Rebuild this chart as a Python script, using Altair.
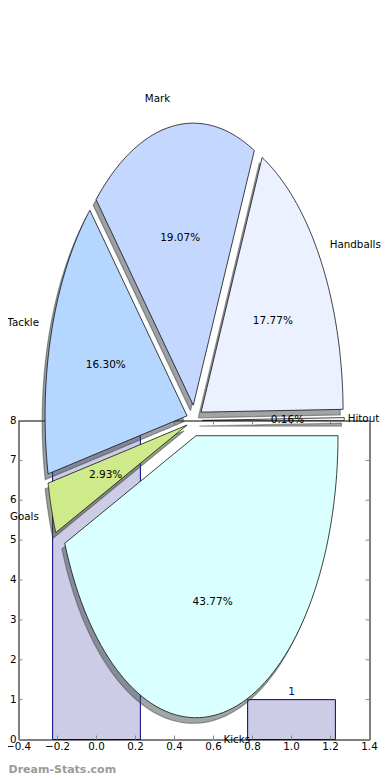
import altair as alt
import pandas as pd

# ---------------- data ----------------
labels = ["Hitout", "Handballs", "Mark", "Tackle", "Goals", "Kicks"]
percents = [0.16, 17.77, 19.07, 16.30, 2.93, 43.77]
colors = ["#ffffff", "#ebf1ff", "#c4d8ff", "#b4d6ff", "#ceea8a", "#d9ffff"]

bar_x = [0, 1]
bar_h = [8, 1]
bar_text = ["8", "1"]

x_ticks = [-0.4, -0.2, 0.0, 0.2, 0.4, 0.6, 0.8, 1.0, 1.2, 1.4]
x_tick_labels = ["\u22120.4", "\u22120.2", "0.0", "0.2", "0.4", "0.6", "0.8", "1.0", "1.2", "1.4"]
y_ticks = [0, 1, 2, 3, 4, 5, 6, 7, 8]
y_tick_labels = ["0", "1", "2", "3", "4", "5", "6", "7", "8"]

title_text = "DT score spread for Adam Selwood (2005)"
watermark = "Dream-Stats.com"

# ---------------- styling ----------------
FONT = "DejaVu Sans"
W, H = 351, 319          # bar axes plot area
EXPLODE = 0.055
SHADOW = 0.02
N = 80
LABEL_FS = 10.3
TICK_FS = 10.3


def shade(h):
    r, g, b = int(h[1:3], 16), int(h[3:5], 16), int(h[5:7], 16)
    return "#%02x%02x%02x" % (round(0.3 * r), round(0.3 * g), round(0.3 * b))


shadow_colors = [shade(c) for c in colors]


def bx():
    return alt.Scale(domain=[-0.4, 1.4], nice=False, zero=False)


def by():
    return alt.Scale(domain=[0, 8], nice=False, zero=False)


def px_scale():
    return alt.Scale(domain=[-1, 1], range=[34, 318], nice=False, zero=False)


def py_scale():
    return alt.Scale(domain=[-1, 1], range=[282, -282], nice=False, zero=False)


# ---------------- bar axes ----------------
bars_df = pd.DataFrame({"x": bar_x, "h": bar_h, "t": bar_text})

bars = alt.Chart(bars_df).transform_calculate(
    x0="datum.x - 0.225", x1="datum.x + 0.225", base="0"
).mark_rect(fill="#ccccE6", stroke="#000080", strokeWidth=1).encode(
    x=alt.X("x0:Q", scale=bx(), axis=None),
    x2="x1:Q",
    y=alt.Y("base:Q", scale=by(), axis=None),
    y2="h:Q",
)

bar_labels = alt.Chart(bars_df).mark_text(
    baseline="bottom", dy=-3, color="#000080", fontSize=10.5, font=FONT
).encode(x=alt.X("x:Q", scale=bx(), axis=None), y=alt.Y("h:Q", scale=by(), axis=None),
         text="t:N")

xt_df = pd.DataFrame({"v": x_ticks, "s": x_tick_labels})
yt_df = pd.DataFrame({"v": y_ticks, "s": y_tick_labels})
tick_style = dict(color="#888888", strokeWidth=1)
tx_bot = alt.Chart(xt_df).mark_rule(**tick_style).encode(
    x=alt.X("v:Q", scale=bx(), axis=None), y=alt.value(H), y2=alt.value(H - 4))
tx_top = alt.Chart(xt_df).mark_rule(**tick_style).encode(
    x=alt.X("v:Q", scale=bx(), axis=None), y=alt.value(0), y2=alt.value(4))
ty_left = alt.Chart(yt_df).mark_rule(**tick_style).encode(
    y=alt.Y("v:Q", scale=by(), axis=None), x=alt.value(0), x2=alt.value(4))
ty_right = alt.Chart(yt_df).mark_rule(**tick_style).encode(
    y=alt.Y("v:Q", scale=by(), axis=None), x=alt.value(W), x2=alt.value(W - 4))

# tick labels
x_lab = alt.Chart(xt_df).mark_text(
    align="center", baseline="top", fontSize=TICK_FS, font=FONT, color="black"
).encode(x=alt.X("v:Q", scale=bx(), axis=None), y=alt.value(H + 2.5), text="s:N")
y_lab = alt.Chart(yt_df).mark_text(
    align="right", baseline="middle", fontSize=TICK_FS, font=FONT, color="black"
).encode(y=alt.Y("v:Q", scale=by(), axis=None), x=alt.value(-2), text="s:N")

wm = alt.Chart(pd.DataFrame({"t": [watermark]})).mark_text(
    align="left", baseline="middle", fontSize=11, fontWeight="bold",
    color="#9a9a9a", font=FONT
).encode(x=alt.value(-10), y=alt.value(349), text="t:N")

# ---------------- pie ----------------
pie_df = pd.DataFrame({"label": labels, "pct": percents, "idx": list(range(len(labels)))})

pie_base = alt.Chart(pie_df).transform_window(
    cum="sum(pct)", sort=[alt.SortField("idx")], frame=[None, 0]
).transform_calculate(
    a0="2*PI*(datum.cum - datum.pct)/100"
).transform_calculate(
    a1="2*PI*datum.cum/100"
).transform_calculate(
    mid="(datum.a0 + datum.a1)/2"
).transform_calculate(
    ox=f"{EXPLODE}*cos(datum.mid)"
).transform_calculate(
    oy=f"{EXPLODE}*sin(datum.mid)"
)

pts = pie_base.transform_calculate(
    seq=f"sequence(0, {N + 3})"
).transform_flatten(["seq"]).transform_calculate(
    ang=f"datum.a0 + (datum.a1 - datum.a0)*clamp(datum.seq - 1, 0, {N})/{N}"
).transform_calculate(
    isarc=f"(datum.seq >= 1 && datum.seq <= {N + 1}) ? 1 : 0"
).transform_calculate(
    px="datum.ox + datum.isarc*cos(datum.ang)"
).transform_calculate(
    py="datum.oy + datum.isarc*sin(datum.ang)"
).transform_calculate(
    sx=f"datum.px - {SHADOW}"
).transform_calculate(
    sy=f"datum.py - {SHADOW}"
)

shadows = pts.mark_line(fillOpacity=0.5, strokeOpacity=0.5, strokeWidth=1.2).encode(
    x=alt.X("sx:Q", scale=px_scale(), axis=None),
    y=alt.Y("sy:Q", scale=py_scale(), axis=None),
    fill=alt.Fill("label:N", scale=alt.Scale(domain=labels, range=shadow_colors), legend=None),
    stroke=alt.Stroke("label:N", scale=alt.Scale(domain=labels, range=shadow_colors), legend=None),
    order=alt.Order("seq:Q"),
    detail="label:N",
)

wedges = pts.mark_line(stroke="#111111", strokeWidth=0.8).encode(
    x=alt.X("px:Q", scale=px_scale(), axis=None),
    y=alt.Y("py:Q", scale=py_scale(), axis=None),
    fill=alt.Fill("label:N", scale=alt.Scale(domain=labels, range=colors), legend=None),
    order=alt.Order("seq:Q"),
    detail="label:N",
)

txt = pie_base.transform_calculate(
    lx="datum.ox + 1.1*cos(datum.mid)"
).transform_calculate(
    ly="datum.oy + 1.1*sin(datum.mid)"
).transform_calculate(
    tx="datum.ox + 0.6*cos(datum.mid)"
).transform_calculate(
    ty="datum.oy + 0.6*sin(datum.mid)"
).transform_calculate(
    ptxt="format(datum.pct, '.2f') + '%'"
)

pct_text = txt.mark_text(align="center", baseline="middle", fontSize=10.5, font=FONT,
                         color="black").encode(
    x=alt.X("tx:Q", scale=px_scale(), axis=None),
    y=alt.Y("ty:Q", scale=py_scale(), axis=None),
    text="ptxt:N",
)

# labels to the right of the centre start at the label point (kept inside the page)
lab_left = txt.transform_filter("cos(datum.mid) > 0").transform_calculate(
    lxc="min(datum.lx, 1.1)"
).mark_text(
    align="left", baseline="middle", fontSize=LABEL_FS, font=FONT, color="black", dx=-3
).encode(
    x=alt.X("lxc:Q", scale=px_scale(), axis=None),
    y=alt.Y("ly:Q", scale=py_scale(), axis=None),
    text="label:N",
)
lab_right = txt.transform_filter("cos(datum.mid) <= 0").mark_text(
    align="right", baseline="middle", fontSize=LABEL_FS, font=FONT, color="black", dx=1
).encode(
    x=alt.X("lx:Q", scale=px_scale(), axis=None),
    y=alt.Y("ly:Q", scale=py_scale(), axis=None),
    text="label:N",
)

chart = alt.layer(
    bars, bar_labels, tx_bot, tx_top, ty_left, ty_right, wm,
    shadows, wedges, pct_text, lab_left, lab_right, x_lab, y_lab
).resolve_scale(
    x="independent", y="independent", fill="independent", stroke="independent"
).properties(
    width=W,
    height=H,
    title=alt.TitleParams(title_text, frame="group", anchor="middle", offset=361,
                          fontSize=12.5, font=FONT, fontWeight="normal", color="black"),
    autosize=alt.AutoSizeParams(type="none"),
    padding={"left": 10.5, "top": 412.5, "right": 12.5, "bottom": 40.5},
).configure(
    font=FONT
).configure_view(
    stroke="black", strokeWidth=1
)

chart.save("out.html", embed_options={"renderer": "svg", "actions": False})
